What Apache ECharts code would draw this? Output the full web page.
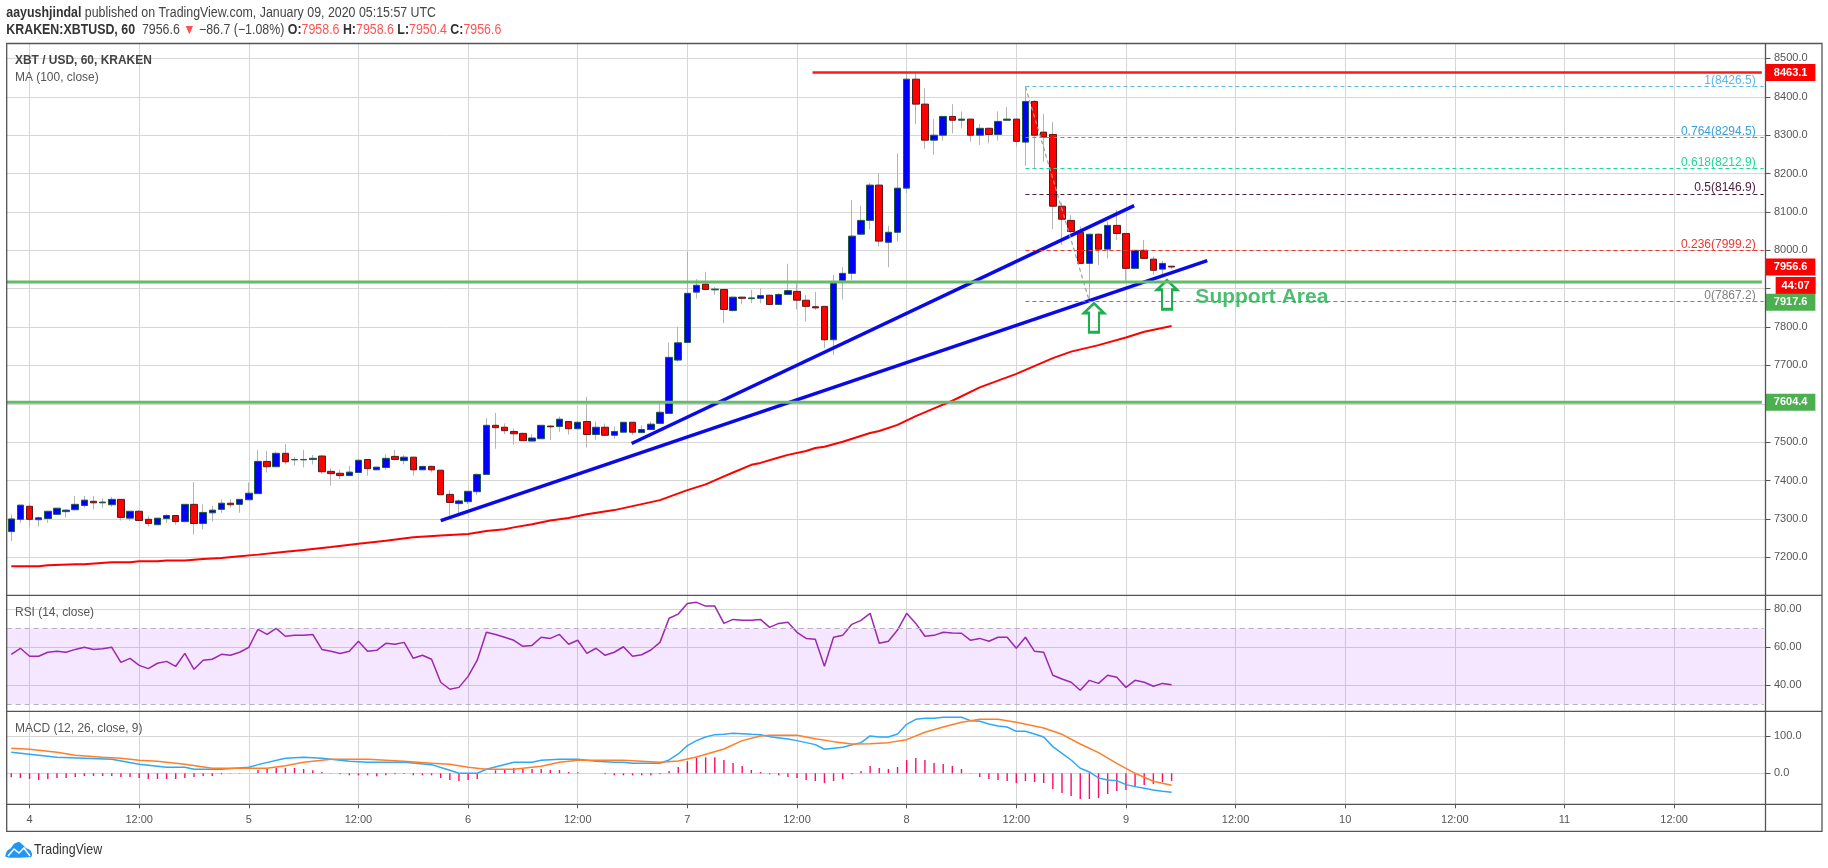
<!DOCTYPE html>
<html lang="en">
<head>
    <meta charset="UTF-8">
    <title>XBT / USD, 60, KRAKEN</title>
    <style>
        html, body { margin: 0; padding: 0; background: #ffffff; }
        #chart { width: 1828px; height: 868px; }
    </style>
</head>
<body>
<div id="chart"></div>
<script src="https://cdn.jsdelivr.net/npm/echarts@6/dist/echarts.min.js"></script>
<script>
// hours are counted from Jan 4 00:00; the first bar sits at hour -2
var firstBarHour = -2;

// [open, close, low, high]
var candles = [
    [7267,7300,7243,7312],[7299,7336,7289,7336],[7333,7299,7280,7341],[7298,7303,7280,7306],[7301,7320,7290,7320],
    [7312,7328,7310,7328],[7319,7323,7303,7325],[7324,7338,7322,7360],[7335,7349,7330,7360],[7346,7342,7325,7360],
    [7342,7344,7329,7353],[7337,7351,7332,7357],[7351,7304,7296,7351],[7302,7320,7296,7320],[7320,7296,7295,7323],
    [7299,7288,7280,7308],[7285,7302,7285,7302],[7301,7309,7290,7313],[7309,7293,7285,7309],[7293,7338,7293,7338],
    [7338,7288,7259,7396],[7288,7317,7273,7338],[7316,7323,7293,7334],[7325,7341,7316,7351],[7341,7337,7329,7351],
    [7338,7351,7316,7351],[7350,7367,7349,7395],[7366,7450,7366,7480],[7450,7436,7421,7477],[7436,7471,7436,7475],
    [7471,7449,7442,7495],[7454,7455,7439,7462],[7454,7455,7434,7480],[7455,7458,7442,7467],[7464,7423,7417,7466],
    [7424,7418,7387,7432],[7419,7413,7404,7428],[7413,7422,7413,7438],[7421,7453,7421,7455],[7455,7431,7413,7455],
    [7428,7435,7428,7435],[7434,7458,7428,7469],[7463,7455,7455,7480],[7452,7461,7442,7466],[7461,7428,7413,7462],
    [7428,7437,7428,7437],[7437,7428,7421,7439],[7427,7363,7363,7427],[7364,7343,7308,7375],[7340,7347,7315,7351],
    [7345,7372,7339,7372],[7371,7416,7362,7419],[7416,7544,7416,7563],[7544,7538,7483,7576],[7539,7530,7521,7549],
    [7528,7522,7494,7536],[7523,7504,7504,7525],[7503,7511,7503,7521],[7509,7544,7509,7544],[7542,7540,7506,7544],
    [7541,7560,7527,7567],[7554,7535,7520,7554],[7535,7552,7535,7554],[7554,7520,7486,7618],[7520,7539,7506,7554],
    [7539,7518,7518,7549],[7518,7528,7509,7541],[7526,7552,7526,7552],[7552,7526,7519,7552],[7525,7533,7525,7544],
    [7533,7547,7532,7554],[7549,7578,7547,7601],[7575,7721,7575,7760],[7714,7759,7710,7801],[7760,7888,7760,7997],
    [7891,7909,7874,7925],[7912,7898,7897,7944],[7897,7899,7884,7904],[7898,7846,7810,7898],[7843,7878,7840,7879],
    [7878,7875,7860,7879],[7874,7876,7862,7897],[7875,7882,7862,7901],[7883,7859,7858,7884],[7859,7885,7858,7888],
    [7885,7895,7883,7965],[7893,7870,7846,7914],[7870,7854,7814,7884],[7853,7850,7845,7892],[7854,7767,7745,7854],
    [7767,7917,7727,7936],[7921,7940,7872,7956],[7940,8037,7923,8131],[8042,8078,8040,8116],[8078,8170,8055,8175],
    [8170,8024,8010,8201],[8021,8047,7956,8064],[8047,8162,8023,8253],[8162,8446,8149,8461],[8446,8381,8329,8461],
    [8381,8287,8265,8422],[8287,8300,8249,8342],[8300,8349,8286,8349],[8349,8339,8305,8381],[8339,8342,8318,8362],
    [8342,8300,8283,8342],[8300,8318,8275,8329],[8318,8302,8279,8320],[8302,8336,8286,8362],[8339,8342,8338,8373],
    [8342,8284,8270,8342],[8282,8388,8220,8427],[8388,8300,8214,8392],[8308,8295,8231,8355],[8302,8115,8055,8334],
    [8115,8081,8014,8124],[8078,8049,8044,8092],[8047,7966,7966,8062],[7966,8042,7867,8042],[8042,8003,7962,8044],
    [8003,8065,7979,8075],[8065,8044,8027,8105],[8044,7953,7921,8044],[7953,8000,7951,8000],[8000,7979,7977,8027],
    [7977,7948,7936,7984],[7951,7966,7936,7973],[7958.6,7956.6,7950.4,7958.6]
];

// [hour, value]
var maValues = [
    [-2,7176.5],[1,7176.5],[2,7179],[5,7181.7],[6,7181.7],[9,7187],[11,7187],[12,7189.5],[14,7189.5],[15,7192],
    [17,7192],[19,7195.6],[21,7198],[23,7202.6],[25,7207],[28,7214.7],[30,7219],[33,7227],[36,7235.6],[39,7243],
    [42,7252],[45,7257],[48,7260.8],[50,7268.6],[52,7273],[53,7278],[55,7286],[57,7296],[59,7302.5],[61,7312],
    [64,7323],[69,7349],[72,7375],[74,7390],[76,7411],[77,7421],[79,7441],[80,7446],[82,7460],[83,7467],
    [85,7477],[86,7485],[87,7488],[89,7501],[92,7524],[93,7529],[95,7545],[97,7568],[99,7588],[101,7608],
    [104,7643],[108,7678],[112,7719],[114,7736],[117,7753],[120,7773],[122,7788],[125,7803]
];

// one value per bar
var rsiValues = [
    56.3,59.5,55.3,55.3,57.4,57.9,57.4,58.9,60,58.9,59.3,60,52.1,54.2,50.5,48.8,51.6,52.6,50,56.8,
    48.4,53.2,53.7,56.3,55.8,57.4,60,69.5,66.8,70,65.8,66.3,66.3,66.8,58.9,57.9,56.8,57.9,63.2,57.9,
    58.4,62.1,61.6,62.6,54.2,55.8,53.7,41.6,37.9,38.9,44.7,53.2,67.9,66.8,65.3,63.7,60.5,61,65.3,64.7,
    66.8,61.6,63.7,56.8,59.5,55.8,57.4,60.3,55.3,56.1,58.6,62.6,75.3,77.5,83.1,83.7,81.7,81.7,72.6,74.7,
    74.2,74.2,74.7,70.5,72.6,73.2,67.9,64.7,64.2,50,65.3,66.3,72.1,74.2,77.9,62.1,63.2,69.1,77.9,72.6,
    65.8,66.3,67.9,67.5,67.4,63.7,64.7,63.2,65.3,65.3,59.5,65.3,57.9,57.4,45.3,43.3,41.6,37.4,42.6,41,
    45.3,44.2,38.9,42.6,41.6,39.5,41,40.3
];

var macdLine = [
    [-2,56.8],[0,51.4],[3,43.2],[6,40.5],[9,37.8],[12,24.3],[15,16.2],[17,16.2],[18,10.8],[21,10.8],
    [24,16.2],[25,23.4],[28,40.5],[30,43.2],[32,40.5],[35,32.4],[37,29.7],[41,29.7],[44,23.4],[46,8.1],
    [47,0],[49,0],[50,10.8],[53,29.7],[55,29.7],[56,35.1],[58,37.8],[60,37.8],[62,32.4],[64,29.7],
    [65,29.7],[66,27],[69,27],[70,36],[71,52.3],[72,74.8],[73,88.3],[74,98.2],[75,104.5],[76,105.4],
    [77,108.1],[79,105.4],[80,104.5],[81,99.1],[83,92.8],[84,88.3],[86,77.5],[87,64.9],[89,70.3],[91,82.9],
    [92,100.9],[93,98.2],[94,98.2],[95,106.3],[96,132.4],[97,145.9],[98,148.6],[99,148.6],[100,151.4],[102,151.4],
    [103,142.3],[104,140.5],[105,133.3],[106,127.9],[107,125.2],[108,113.5],[109,113.5],[110,106.3],[111,98.2],[112,72.1],
    [113,54.1],[114,36],[115,13.5],[116,3.6],[117,-12.6],[118,-18],[119,-19.8],[120,-30.6],[121,-36],[122,-40.5],
    [123,-45],[124,-48.6],[125,-51.4]
];

var macdSignal = [
    [-2,67.6],[0,64.9],[3,56.8],[5,48.6],[8,43.2],[10,40.5],[12,35.1],[14,32.4],[17,24.3],[20,13.5],
    [24,13.5],[26,13.5],[28,20.7],[30,29.7],[33,37.8],[37,37.8],[39,35.1],[41,32.4],[44,27],[46,24.3],
    [48,16.2],[50,10.8],[53,10.8],[56,18.9],[58,29.7],[60,35.1],[65,35.1],[67,32.4],[69,29.7],[71,33.3],
    [73,44.1],[76,65.8],[78,88.3],[80,100.9],[81,102.7],[84,102.7],[86,93.7],[88,85.6],[90,79.3],[92,80.2],
    [94,82.9],[96,91],[98,110.8],[100,125.2],[102,137.8],[104,145.9],[106,145.9],[108,137.8],[111,122.5],[113,105.4],
    [115,79.3],[117,55.9],[119,27],[121,0],[123,-21.6],[125,-32.4]
];

// one value per bar
var macdHist = [
    -10.8,-12.6,-15.3,-18,-15.3,-12.6,-12.6,-9.9,-7.2,-7.2,-7.2,-7.2,-9.9,-9.9,-12.6,-15.3,-15.3,-15.3,-15.3,-12.6,
    -9.9,-7.2,-7.2,-2.7,-1,-1,0,9,11.7,14.4,14.4,14.4,11.7,8.1,3.6,0.5,-2.7,-5.4,-5.4,-5.4,
    -8.1,-5.4,-2.7,-1.8,-5.4,-5.4,-5.4,-12.6,-18,-20.7,-18,-15.3,0.5,8.1,10.8,14.4,11.7,11.7,11.7,9,
    9,3.6,2.7,0,0,-2.7,-5.4,-5.4,-5.4,-5.4,-5.4,-2.7,6.3,17.1,32.4,41.4,43.2,43.2,36,27.9,
    19.8,9,3.6,-2.7,-5.4,-9.9,-12.6,-18,-20.7,-26.1,-20.7,-15.3,-2.7,6.3,19.8,14.4,11.7,17.1,36,41.4,
    36,27.9,25.2,19.8,11.7,0.9,-9.9,-15.3,-18,-20.7,-26.1,-20.7,-23.4,-26.1,-42.3,-53.2,-61.3,-69.4,-69.4,-66.7,
    -55.9,-47.7,-45,-36.9,-31.5,-28.8,-23.4,-20.7
];

var timeTicks = [0,12,24,36,48,60,72,84,96,108,120,132,144,156,168,180];
var timeTickLabels = ['4','12:00','5','12:00','6','12:00','7','12:00','8','12:00','9','12:00','10','12:00','11','12:00'];

var priceGridLines = [7200,7300,7400,7500,7600,7700,7800,7900,8000,8100,8200,8300,8400,8500];
var priceTickLabels = [7200,7300,7400,7500,7700,7800,8000,8100,8200,8300,8400,8500];
var rsiTicks = [40,60,80];
var macdTicks = [0,100];

var supportLevels = [7917.6, 7604.4];
var resistanceLevel = 8463.1;
var resistanceStartHour = 85.7;
var trendLineLower = [[45,7295.5],[128.9,7973.2]];
var trendLineUpper = [[65.9,7496.7],[120.9,8116.5]];

var fibStartHour = 109;
var fibTrend = [[109,8426.5],[116,7867.2]];
var fibNames = ['1','0.764','0.618','0.5','0.236','0'];
var fibPrices = [8426.5,8294.5,8212.9,8146.9,7999.2,7867.2];
var fibColors = ['#5fb8e6','#3a9fd8','#1fd69a','#4a1a3c','#e53935','#808080'];

var arrowPoints = [[116.5,7824],[124.5,7884.5]];
var supportAreaPoint = [127.6,7878];
var lastPrice = 7956.6;
var countdownText = '44:07';
// the axis pushes overlapping tags apart, so these two sit off their own price
var countdownTagPrice = 7908.4;
var upperSupportTagPrice = 7864.7;

var TEXT_FONT = '"Liberation Sans", Arial, sans-serif';
var AXIS_HOUR_MIN = -2.5, AXIS_HOUR_MAX = 190;
var PLOT_LEFT = 6.7, PLOT_RIGHT = 1765.5, FRAME_RIGHT = 1822;
var Y_TOP = 43.5, Y_PRICE = 595.3, Y_RSI = 711.3, Y_MACD = 804.3, Y_BOTTOM = 831.3;
var AXIS_COLOR = '#555555', GRID_COLOR = '#d6d6d6', LABEL_COLOR = '#555555';
var TEXT_SQUEEZE = 0.885;

function barRows(values) {
    return values.map(function (v, i) { return [firstBarHour + i, v]; });
}

function makeXAxis(index, showLabels) {
    return {
        type: 'value', gridIndex: index, min: AXIS_HOUR_MIN, max: AXIS_HOUR_MAX,
        // onZero off, otherwise the ticks follow the zero of the other axis
        axisLine: {show: false, onZero: false},
        axisTick: {show: showLabels, length: 4, customValues: timeTicks, lineStyle: {color: AXIS_COLOR}},
        axisLabel: {
            show: showLabels, customValues: timeTicks, margin: 10, color: LABEL_COLOR,
            fontFamily: TEXT_FONT, fontSize: 11,
            formatter: function (v) { return timeTickLabels[timeTicks.indexOf(v)]; }
        },
        splitLine: {show: true, lineStyle: {color: GRID_COLOR, width: 1}}
    };
}

function makeYAxis(index, min, max, gridTicks, labelTicks, digits) {
    return {
        type: 'value', gridIndex: index, position: 'right', min: min, max: max,
        axisLine: {show: false, onZero: false},
        axisTick: {show: true, length: 5, customValues: gridTicks, lineStyle: {color: AXIS_COLOR}},
        axisLabel: {
            customValues: labelTicks, margin: 8.5, color: LABEL_COLOR,
            fontFamily: TEXT_FONT, fontSize: 11,
            formatter: function (v) { return v.toFixed(digits); }
        },
        splitLine: {show: true, lineStyle: {color: GRID_COLOR, width: 1}}
    };
}

function priceLine(name, rows, color, width, dash) {
    return {
        name: name, type: 'line', xAxisIndex: 0, yAxisIndex: 0, data: rows, symbol: 'none', silent: true,
        lineStyle: {color: color, width: width, type: dash || 'solid'}
    };
}

function priceTag(price, text, color, width, hour) {
    return {
        name: 'tag ' + text, type: 'scatter', xAxisIndex: 0, yAxisIndex: 0, clip: false, silent: true, z: 5,
        data: [[hour, price]], symbol: 'rect', symbolSize: [width, 17],
        itemStyle: {color: color, opacity: 1},
        label: {
            show: true, position: 'inside', formatter: text, color: '#ffffff',
            fontFamily: TEXT_FONT, fontWeight: 'bold', fontSize: 11
        }
    };
}

var series = [
    // wicks are grey and the body border is dark, so they are two layers
    {
        name: 'wicks', type: 'candlestick', xAxisIndex: 0, yAxisIndex: 0, barWidth: 1,
        data: candles.map(function (c, i) { return [firstBarHour + i, c[0], c[1], c[2], c[3]]; }),
        itemStyle: {color: '#b4b4b4', color0: '#b4b4b4', borderColor: '#b4b4b4', borderColor0: '#b4b4b4', borderWidth: 1}
    },
    {
        name: 'bodies', type: 'candlestick', xAxisIndex: 0, yAxisIndex: 0, barWidth: 7,
        data: candles.map(function (c, i) {
            return [firstBarHour + i, c[0], c[1], Math.min(c[0], c[1]), Math.max(c[0], c[1])];
        }),
        itemStyle: {color: '#0000ff', color0: '#ff0000', borderColor: '#1f5c3d', borderColor0: '#5c1a1a', borderWidth: 1}
    },
    priceLine('MA', maValues, '#ff0000', 2),
    priceLine('trend lower', trendLineLower, '#0a0ae6', 3.5),
    priceLine('trend upper', trendLineUpper, '#0a0ae6', 3.5),
    priceLine('resistance', [[resistanceStartHour, resistanceLevel], [AXIS_HOUR_MAX - 0.4, resistanceLevel]], '#ff1a1a', 2.5),
    priceLine('fib trend', fibTrend, '#9e9e9e', 1.2, [4, 3])
];

supportLevels.forEach(function (level) {
    series.push(priceLine('support ' + level, [[AXIS_HOUR_MIN, level], [AXIS_HOUR_MAX - 0.4, level]], '#66bb6a', 3));
});

series.push({
    name: 'fib', type: 'line', xAxisIndex: 0, yAxisIndex: 0, data: [], symbol: 'none', silent: true,
    markLine: {
        silent: true, symbol: 'none', animation: false,
        data: fibPrices.map(function (price, i) {
            return [{
                coord: [fibStartHour, price],
                lineStyle: {color: fibColors[i], type: [4, 3], width: 1},
                label: {
                    show: true, position: 'insideEndTop', distance: [8, 0],
                    formatter: fibNames[i] + '(' + price.toFixed(1) + ')',
                    color: fibColors[i], fontFamily: TEXT_FONT, fontSize: 12
                }
            }, {coord: [AXIS_HOUR_MAX - 0.2, price]}];
        })
    }
});

series.push({
    name: 'arrows', type: 'scatter', xAxisIndex: 0, yAxisIndex: 0, silent: true, data: arrowPoints,
    symbol: 'path://M10 0 L20 10 L15 10 L15 30 L5 30 L5 10 L0 10 Z', symbolSize: [20, 29],
    itemStyle: {color: 'rgba(255,255,255,0)', borderColor: '#1fae4f', borderWidth: 2.5, opacity: 1}
});

series.push({
    name: 'support area', type: 'scatter', xAxisIndex: 0, yAxisIndex: 0, silent: true, data: [supportAreaPoint],
    symbolSize: 0,
    label: {
        show: true, position: 'right', distance: 0, formatter: 'Support Area', color: '#1fae4f',
        fontFamily: TEXT_FONT, fontWeight: 'bold', fontSize: 21
    }
});

series.push(priceTag(resistanceLevel, resistanceLevel.toFixed(1), '#ff0000', 49.5, 192.75));
series.push(priceTag(lastPrice, lastPrice.toFixed(1), '#ff0000', 49.5, 192.75));
series.push(priceTag(countdownTagPrice, countdownText, '#ff0000', 40, 193.3));
series.push(priceTag(upperSupportTagPrice, supportLevels[0].toFixed(1), '#4caf50', 49.5, 192.75));
series.push(priceTag(supportLevels[1], supportLevels[1].toFixed(1), '#4caf50', 49.5, 192.75));

series.push({
    name: 'RSI', type: 'line', xAxisIndex: 1, yAxisIndex: 1, data: barRows(rsiValues), symbol: 'none', silent: true,
    lineStyle: {color: '#9c27b0', width: 1.5},
    markArea: {
        silent: true, animation: false,
        itemStyle: {color: 'rgba(153,40,255,0.11)'},
        data: [[{coord: [AXIS_HOUR_MIN, 70]}, {coord: [AXIS_HOUR_MAX - 0.2, 30]}]]
    },
    markLine: {
        silent: true, symbol: 'none', animation: false, label: {show: false},
        lineStyle: {color: '#b9aec2', type: [5, 4], width: 1},
        data: [
            [{coord: [AXIS_HOUR_MIN, 70]}, {coord: [AXIS_HOUR_MAX - 0.2, 70]}],
            [{coord: [AXIS_HOUR_MIN, 30]}, {coord: [AXIS_HOUR_MAX - 0.2, 30]}]
        ]
    }
});

series.push({
    name: 'Histogram', type: 'bar', xAxisIndex: 2, yAxisIndex: 2, data: barRows(macdHist), barWidth: 1.4, silent: true,
    itemStyle: {color: '#ff0a6c'}
});
series.push({
    name: 'MACD', type: 'line', xAxisIndex: 2, yAxisIndex: 2, data: macdLine, symbol: 'none', silent: true,
    lineStyle: {color: '#2fa8f5', width: 1.5}
});
series.push({
    name: 'Signal', type: 'line', xAxisIndex: 2, yAxisIndex: 2, data: macdSignal, symbol: 'none', silent: true,
    lineStyle: {color: '#ff7f27', width: 1.5}
});

function frameLine(x1, y1, x2, y2) {
    return {
        type: 'line', silent: true, z: 20,
        shape: {x1: x1, y1: y1, x2: x2, y2: y2},
        style: {stroke: AXIS_COLOR, lineWidth: 1.3}
    };
}

function chromeText(x, y, text, size, color, scaleX, rich, bold) {
    return {
        type: 'text', x: x, y: y, scaleX: scaleX, silent: true, z: 21,
        style: {
            text: text, fontFamily: TEXT_FONT, fontSize: size, fontWeight: bold ? 'bold' : 'normal',
            fill: color, verticalAlign: 'middle', align: 'left', rich: rich
        }
    };
}

var headRich = {
    b: {fontFamily: TEXT_FONT, fontSize: 14, fontWeight: 'bold', fill: '#333333', color: '#333333'},
    n: {fontFamily: TEXT_FONT, fontSize: 14, fill: '#444444', color: '#444444'},
    r: {fontFamily: TEXT_FONT, fontSize: 14, fill: '#ff5252', color: '#ff5252'}
};

var graphics = [
    // outer frame and pane separators
    {
        type: 'rect', silent: true, z: 20,
        shape: {x: PLOT_LEFT, y: Y_TOP, width: FRAME_RIGHT - PLOT_LEFT, height: Y_BOTTOM - Y_TOP},
        style: {fill: 'none', stroke: AXIS_COLOR, lineWidth: 1.3}
    },
    frameLine(PLOT_LEFT, Y_PRICE, FRAME_RIGHT, Y_PRICE),
    frameLine(PLOT_LEFT, Y_RSI, FRAME_RIGHT, Y_RSI),
    frameLine(PLOT_LEFT, Y_MACD, FRAME_RIGHT, Y_MACD),
    frameLine(PLOT_RIGHT, Y_TOP, PLOT_RIGHT, Y_BOTTOM),

    chromeText(6.3, 13, '{b|aayushjindal} {n|published on TradingView.com, January 09, 2020 05:15:57 UTC}', 14, '#444444', TEXT_SQUEEZE, headRich),
    chromeText(6.3, 30, '{b|KRAKEN:XBTUSD, 60}  {n|7956.6} {r|▼} {n|−86.7 (−1.08%)} {b|O:}{r|7958.6} {b|H:}{r|7958.6} {b|L:}{r|7950.4} {b|C:}{r|7956.6}', 14, '#444444', TEXT_SQUEEZE, headRich),

    chromeText(15, 60.7, 'XBT / USD, 60, KRAKEN', 13.5, '#444444', TEXT_SQUEEZE, null, true),
    chromeText(15, 77.7, 'MA (100, close)', 13.5, '#555555', TEXT_SQUEEZE),
    chromeText(15, 612.7, 'RSI (14, close)', 13.5, '#555555', TEXT_SQUEEZE),
    chromeText(15, 728.7, 'MACD (12, 26, close, 9)', 13.5, '#555555', TEXT_SQUEEZE),

    // TradingView logo
    {
        type: 'polygon', silent: true, z: 21,
        shape: {points: [[6, 857], [7, 851], [11, 848], [14, 844], [19, 842], [23, 845], [26, 848], [30, 850], [32, 854], [31, 857]], smooth: 0.3},
        style: {fill: '#2196f3'}
    },
    {
        type: 'polyline', silent: true, z: 22,
        shape: {points: [[8, 856], [14, 849], [19, 853], [24, 848], [30, 856]]},
        style: {fill: 'none', stroke: '#ffffff', lineWidth: 1.5}
    },
    chromeText(34, 850, 'TradingView', 14, '#333333', TEXT_SQUEEZE)
];

var chart = echarts.init(document.getElementById('chart'), null, {renderer: 'canvas'});
chart.setOption({
    animation: false,
    backgroundColor: '#ffffff',
    grid: [
        {left: PLOT_LEFT, width: PLOT_RIGHT - PLOT_LEFT, top: Y_TOP, height: Y_PRICE - Y_TOP},
        {left: PLOT_LEFT, width: PLOT_RIGHT - PLOT_LEFT, top: Y_PRICE, height: Y_RSI - Y_PRICE},
        {left: PLOT_LEFT, width: PLOT_RIGHT - PLOT_LEFT, top: Y_RSI, height: Y_MACD - Y_RSI}
    ],
    xAxis: [makeXAxis(0, false), makeXAxis(1, false), makeXAxis(2, true)],
    yAxis: [
        makeYAxis(0, 7101, 8539, priceGridLines, priceTickLabels, 1),
        makeYAxis(1, 26.3, 87.4, rsiTicks, rsiTicks, 2),
        makeYAxis(2, -83.8, 167.6, macdTicks, macdTicks, 1)
    ],
    series: series,
    graphic: graphics
});
</script>
</body>
</html>
